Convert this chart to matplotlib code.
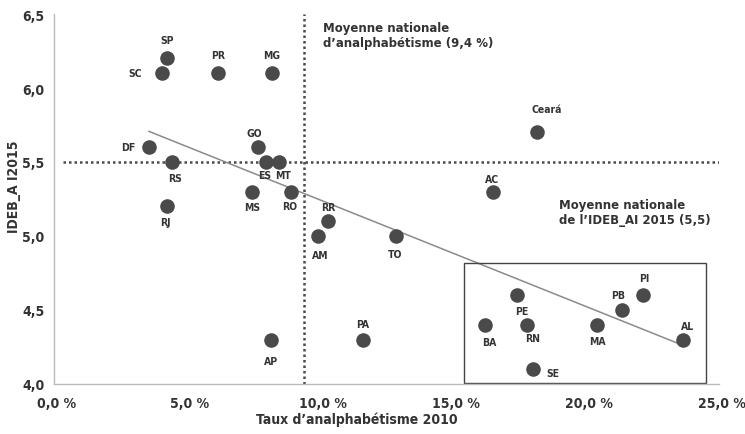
import matplotlib
matplotlib.use("Agg")
import matplotlib.pyplot as plt
import matplotlib.patches as mpatches
import matplotlib.transforms as mtransforms
import numpy as np

# Etats : taux d'analphabetisme 2010 (%) et IDEB_AI 2015
states = ["SP", "SC", "PR", "MG", "DF", "RS", "GO", "ES", "MT", "MS", "RO",
          "RR", "AM", "RJ", "AP", "PA", "TO", "Ceará", "AC", "PE", "BA",
          "RN", "MA", "PB", "PI", "AL", "SE"]
illiteracy = [4.25, 4.06, 6.17, 8.2, 3.57, 4.44, 7.67, 7.97, 8.45, 7.45, 8.9,
              10.3, 9.93, 4.25, 8.15, 11.6, 12.85, 18.15, 16.5, 17.4, 16.2,
              17.8, 20.4, 21.35, 22.15, 23.65, 18.0]
ideb = [6.2, 6.1, 6.1, 6.1, 5.6, 5.5, 5.6, 5.5, 5.5, 5.3, 5.3,
        5.1, 5.0, 5.2, 4.3, 4.3, 5.0, 5.7, 5.3, 4.6, 4.4,
        4.4, 4.4, 4.5, 4.6, 4.3, 4.1]

nat_illiteracy = 9.4
nat_ideb = 5.5

# label offsets in pixels (dx, dy)
label_offsets = {
    "SP": (0, 18), "SC": (-27, 0), "PR": (0, 18), "MG": (0, 18),
    "DF": (-21, 0), "RS": (3, -16), "GO": (-4, 14), "ES": (-1, -13),
    "MT": (4, -13), "MS": (0, -15), "RO": (-1, -14), "RR": (0, 14),
    "AM": (2, -19), "RJ": (-2, -16), "AP": (0, -21), "PA": (0, 16),
    "TO": (-1, -18), "Ceará": (10, 23), "AC": (-1, 13), "PE": (5, -16),
    "BA": (4, -17), "RN": (5, -13), "MA": (1, -16), "PB": (-4, 15),
    "PI": (1, 17), "AL": (5, 14), "SE": (20, -4),
}

DARK = "#4a4a4a"
TEXT = "#333333"

plt.rcParams["font.family"] = ["DejaVu Sans"]
plt.rcParams["font.stretch"] = "condensed"
COND = dict(fontstretch="condensed", fontweight="bold", color=TEXT)

fig = plt.figure(figsize=(7.45, 4.35), dpi=100)
ax = fig.add_axes([0.0725, 0.115, 0.8925, 0.8505])

ax.scatter(illiteracy, ideb, s=110, color=DARK, zorder=3, linewidths=0)

for name, x, y in zip(states, illiteracy, ideb):
    dx, dy = label_offsets[name]
    ax.annotate(name, xy=(x, y), xytext=(dx, dy), textcoords="offset pixels",
                ha="center", va="center", fontsize=7.5, **COND)

# linear trend line (Excel style)
coef = np.polyfit(illiteracy, ideb, 1)
xs = np.array([min(illiteracy), max(illiteracy)])
ax.plot(xs, np.polyval(coef, xs), color="#8a8a8a", linewidth=1.1, zorder=2)

# national averages
ax.axvline(nat_illiteracy, color=DARK, linewidth=1.8, linestyle=(0, (1, 1.2)), zorder=1)
ax.hlines(nat_ideb, 0.35, 25, color=DARK, linewidth=1.8, linestyle=(0, (1, 1.2)), zorder=1)

ax.text(10.1, 6.45, "Moyenne nationale\nd\u2019analphabétisme (9,4 %)", ha="left", va="top",
        fontsize=9.4, linespacing=1.2, **COND)
ax.text(19.0, 5.16, "Moyenne nationale\nde l\u2019IDEB_AI 2015 (5,5)", ha="left", va="center",
        fontsize=9.4, linespacing=1.2, **COND)

# highlighted box
ax.add_patch(mpatches.Rectangle((15.4, 4.005), 24.5 - 15.4, 4.82 - 4.005, fill=False,
                                edgecolor="#444444", linewidth=1.0, zorder=2))

ax.set_xlim(0, 25)
ax.set_ylim(4.0, 6.5)
ax.set_xticks([0, 5, 10, 15, 20, 25])
ax.set_xticklabels(["0,0 %", "5,0 %", "10,0 %", "15,0 %", "20,0 %", "25,0 %"])
ax.set_yticks([4.0, 4.5, 5.0, 5.5, 6.0, 6.5])
ax.set_yticklabels(["4,0", "4,5", "5,0", "5,5", "6,0", "6,5"])
ax.tick_params(length=0, labelsize=10, colors=TEXT)
ax.tick_params(axis="x", pad=9)
ax.tick_params(axis="y", pad=7)
shift = mtransforms.ScaledTranslation(3 / 100, 0, fig.dpi_scale_trans)
for lbl in ax.get_xticklabels():
    lbl.set_transform(lbl.get_transform() + shift)
for lbl in ax.get_xticklabels() + ax.get_yticklabels():
    lbl.set_fontweight("bold")
    lbl.set_fontstretch("condensed")

ax.set_xlabel("Taux d\u2019analphabétisme 2010", fontsize=10, **COND)
ax.set_ylabel("IDEB_A I2015", fontsize=10, **COND)
ax.yaxis.set_label_coords(-0.05, 0.535)
ax.xaxis.set_label_coords(0.455, -0.075)

for spine in ["top", "right"]:
    ax.spines[spine].set_visible(False)
for spine in ["left", "bottom"]:
    ax.spines[spine].set_color("#bbbbbb")
    ax.spines[spine].set_linewidth(1.0)

fig.savefig("out.png", dpi=100)
plt.close(fig)
